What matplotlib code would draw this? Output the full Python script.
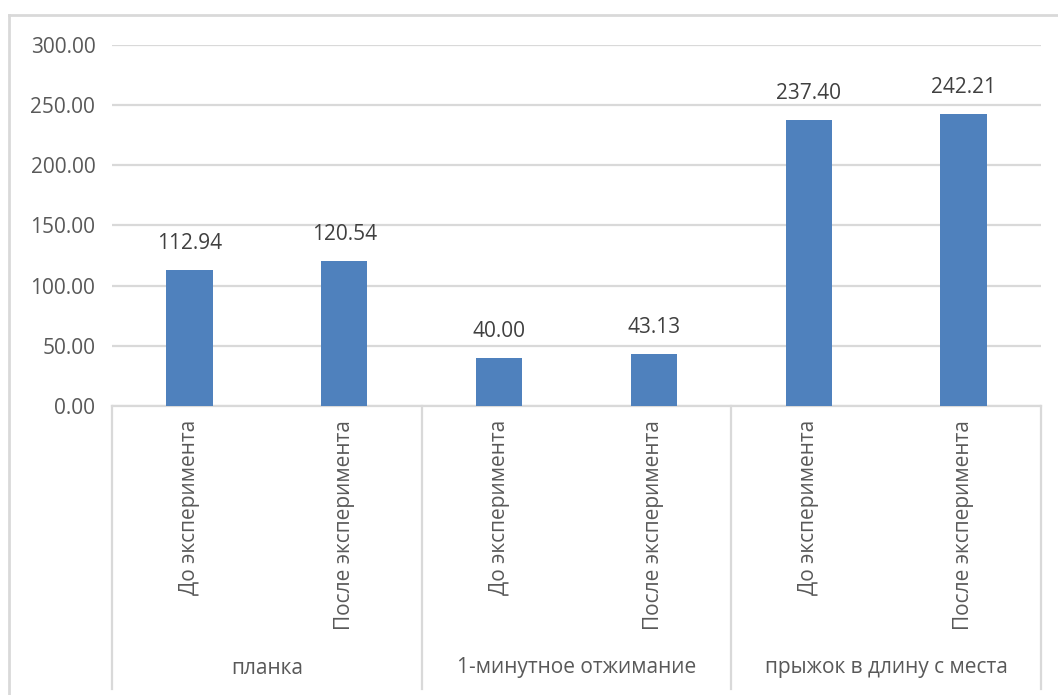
import matplotlib
matplotlib.use("Agg")
import matplotlib.pyplot as plt
from matplotlib.lines import Line2D

plt.rcParams['font.family'] = ['Open Sans', 'DejaVu Sans']

groups = ["планка", "1-минутное отжимание", "прыжок в длину с места"]
stages = ["До эксперимента", "После эксперимента"]
values = [112.94, 120.54, 40.00, 43.13, 237.40, 242.21]
y_ticks = [0, 50, 100, 150, 200, 250, 300]

bar_color = "#4f81bd"
grid_color = "#d9d9d9"
text_color = "#595959"
fs = 15

fig = plt.figure(figsize=(10.58, 6.95), dpi=100)
ax = fig.add_axes([112 / 1058, 1 - 406 / 695, (1041 - 112) / 1058, (406 - 44.5) / 695])

x = list(range(len(values)))
labels = [stages[i % 2] for i in x]
ax.bar(x, values, width=0.30, color=bar_color, zorder=3)

for xi, v in zip(x, values):
    ax.annotate(f"{v:.2f}", (xi, v), xytext=(0, 15), textcoords="offset points",
                ha="center", va="baseline", fontsize=fs, color="#404040")

ax.set_xlim(-0.5, len(values) - 0.5)
ax.set_ylim(0, 300)
ax.set_yticks(y_ticks)
ax.set_yticklabels([f"{t:.2f}" for t in y_ticks], fontsize=fs, color=text_color)
ax.yaxis.grid(True, color=grid_color, linewidth=1.6, zorder=0)
ax.tick_params(axis="y", length=0, pad=12)

ax.set_xticks(x)
ax.set_xticklabels(labels, rotation=90, fontsize=fs, color=text_color)
ax.tick_params(axis="x", length=0, pad=10)

for s in ["top", "right", "left"]:
    ax.spines[s].set_visible(False)
ax.spines["bottom"].set_color(grid_color)
ax.spines["bottom"].set_linewidth(1.6)

# group separators and group labels below the axis
y_bottom = -(689 - 406) / (406 - 44.5)
y_group = -(668 - 406) / (406 - 44.5)
trans = ax.get_xaxis_transform()
for b in [-0.5, 1.5, 3.5, 5.5]:
    ax.plot([b, b], [0, y_bottom], transform=trans, color=grid_color,
            linewidth=1.6, clip_on=False)
for i, g in enumerate(groups):
    ax.text(2 * i + 0.5, y_group, g, transform=trans, ha="center", va="center",
            fontsize=fs, color=text_color)

# chart area border (cropped)
fig.add_artist(Line2D([9 / 1058, 1], [1 - 15 / 695, 1 - 15 / 695], color=grid_color, linewidth=2))
fig.add_artist(Line2D([9 / 1058, 9 / 1058], [0, 1 - 15 / 695], color=grid_color, linewidth=2))

fig.savefig("out.png", dpi=100)
